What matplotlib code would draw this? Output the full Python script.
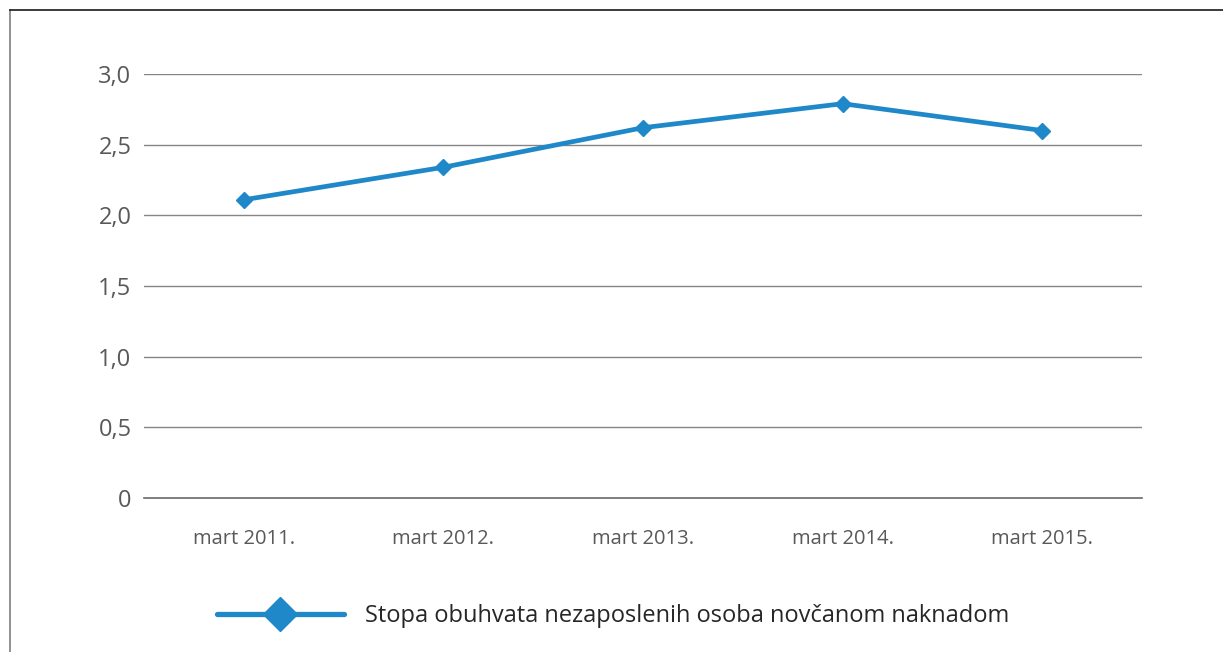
import matplotlib
matplotlib.use("Agg")
import matplotlib.pyplot as plt
from matplotlib.lines import Line2D

categories = ["mart 2011.", "mart 2012.", "mart 2013.", "mart 2014.", "mart 2015."]
values = [2.11, 2.34, 2.62, 2.79, 2.60]
series_name = "Stopa obuhvata nezaposlenih osoba novčanom naknadom"
yticks = [0, 0.5, 1.0, 1.5, 2.0, 2.5, 3.0]
ytick_labels = ["0", "0,5", "1,0", "1,5", "2,0", "2,5", "3,0"]

plt.rcParams['font.family'] = ['Open Sans', 'DejaVu Sans']
color = "#1f88c9"

fig = plt.figure(figsize=(12.23, 6.52), dpi=100)
ax = fig.add_axes([144/1223, 1-498/652, (1142-144)/1223, (498-74)/652])

x = list(range(len(categories)))
ax.plot(x, values, color=color, lw=3.4, marker="D", markersize=8, solid_capstyle="round")

ax.set_xlim(-0.5, len(categories)-0.5)
ax.set_ylim(0, 3.0)
ax.set_yticks(yticks)
ax.set_yticklabels(ytick_labels, fontsize=17, color="#595959")
ax.set_xticks(x)
ax.set_xticklabels(categories, fontsize=14.5, color="#595959")
ax.tick_params(length=0)
ax.tick_params(axis="y", pad=9)
ax.tick_params(axis="x", pad=22)
ax.grid(axis="y", color="#858585", lw=1)
ax.axhline(0, color="#6a6a6a", lw=1.2, clip_on=False, zorder=0.5)
ax.set_axisbelow(True)
for s in ax.spines.values():
    s.set_visible(False)

handle = Line2D([0], [0], color=color, lw=3.8, marker="D", markersize=17, solid_capstyle="round")
fig.legend(handles=[handle], labels=[series_name], loc="center",
           bbox_to_anchor=(613/1223, 1-616/652), frameon=False,
           fontsize=17, handlelength=5.4, handletextpad=0.9, labelcolor="#262626")

# frame (left and top only)
fig.add_artist(Line2D([10/1223, 10/1223], [0, 1-10/652], transform=fig.transFigure, color="#7f7f7f", lw=1.2))
fig.add_artist(Line2D([10/1223, 1], [1-10/652, 1-10/652], transform=fig.transFigure, color="#1a1a1a", lw=1.2))

fig.savefig("out.png", dpi=100)
